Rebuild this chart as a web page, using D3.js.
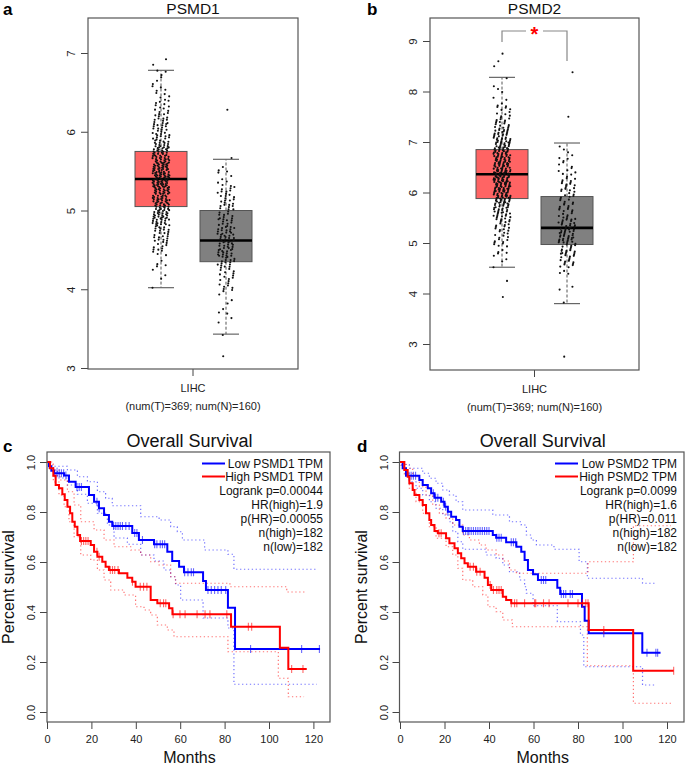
<!DOCTYPE html>
<html>
<head>
<meta charset="utf-8">
<script src="https://cdn.jsdelivr.net/npm/d3@7"></script>
<style>
  body { margin: 0; background: #fff; }
  svg { display: block; font-family: "Liberation Sans", Arial, Helvetica, sans-serif; }
</style>
</head>
<body>
<svg id="fig"></svg>
<script>
const width = 685;
const height = 766;
const BIN = 0.1; // histogram bin width used for the jittered expression points

// ---- boxplot data (Tumor, Normal) ----
const boxGroups = ["Tumor", "Normal"];
const boxColors = ["#FF6464", "#808080"];
// [lower whisker, Q1, median, Q3, upper whisker]
const psmd1Stats = [[4.02, 5.05, 5.40, 5.75, 6.78], [3.43, 4.35, 4.62, 5.00, 5.65]];
const psmd2Stats = [[4.52, 5.88, 6.36, 6.85, 8.28], [3.80, 4.97, 5.30, 5.92, 6.98]];

// point counts per 0.1 bin
const psmd1TumorStart = 4.0;
const psmd1TumorCounts = [1, 2, 2, 3, 4, 8, 11, 13, 18, 20, 20, 24, 26, 30, 30, 28, 24, 20, 17, 14, 12, 10, 8, 7, 5, 4, 3, 3];
const psmd1NormalStart = 3.4;
const psmd1NormalCounts = [1, 1, 2, 2, 2, 3, 6, 7, 8, 12, 15, 14, 14, 14, 10, 9, 10, 9, 8, 5, 3, 2, 1];
const psmd2TumorStart = 4.5;
const psmd2TumorCounts = [1, 2, 2, 3, 4, 5, 5, 6, 7, 9, 10, 12, 13, 16, 18, 20, 20, 20, 20, 20, 19, 18, 16, 16, 15, 14, 12, 10, 8, 6, 5, 4, 3, 2, 1, 1, 1, 1];
const psmd2NormalStart = 3.8;
const psmd2NormalCounts = [1, 0, 1, 1, 0, 1, 2, 5, 6, 8, 9, 7, 12, 11, 11, 10, 8, 6, 6, 6, 5, 6, 7, 6, 5, 4, 3, 3, 3, 2, 1, 1];
const psmd1Outliers = [[6.85, 6.92], [6.28, 3.15]];
const psmd2Outliers = [[8.75, 8.6, 8.5, 4.25, 3.93], [8.38, 7.5, 2.75]];

// ---- survival data: [months, survival] steps ----
const kmTicks = [0, 20, 40, 60, 80, 100, 120];
const survTicks = [0, 0.2, 0.4, 0.6, 0.8, 1.0];

const psmd1Low = [[0,1],[0.9,0.983],[1.95,0.965],[3.15,0.955],[7.7,0.946],[9.9,0.921],[12.9,0.9],[18.9,0.868],[21.2,0.841],[23.4,0.815],[25.7,0.788],[27.9,0.761],[29.4,0.744],[38.4,0.716],[41.4,0.688],[48.2,0.671],[54.2,0.641],[56.4,0.604],[59.5,0.581],[61.7,0.559],[70.3,0.524],[71.6,0.488],[81.5,0.417],[84.7,0.252],[123,0.252]];
const psmd1High = [[0,1],[1.35,0.975],[2.85,0.945],[3.9,0.908],[5.4,0.895],[6.9,0.871],[8,0.848],[9.2,0.821],[10.4,0.795],[11.4,0.761],[12.5,0.741],[13.7,0.708],[14.9,0.684],[19.7,0.668],[21.2,0.641],[22.7,0.621],[24.9,0.601],[26.4,0.581],[27.9,0.568],[32.4,0.555],[36.2,0.537],[38.4,0.521],[39.9,0.501],[46.7,0.448],[49.7,0.435],[55,0.415],[56.5,0.391],[82.9,0.341],[104.9,0.257],[108.7,0.172],[117,0.172]];
const psmd1LowUpper = [[0,1],[1.6,0.983],[9.2,0.968],[13.7,0.941],[18.2,0.921],[22.7,0.881],[26.4,0.855],[29.4,0.825],[42.2,0.781],[50.5,0.768],[55.7,0.741],[58.7,0.721],[61,0.688],[71,0.648],[81.5,0.631],[84.2,0.571],[121.5,0.571]];
const psmd1LowLower = [[0,1],[0.9,0.975],[4.7,0.936],[9.2,0.908],[13.7,0.871],[18.2,0.835],[22.7,0.795],[27.2,0.748],[30.2,0.696],[36.2,0.671],[42.2,0.628],[48.2,0.604],[52.7,0.568],[55.7,0.541],[57.9,0.508],[60.2,0.448],[70.3,0.376],[81.5,0.336],[84.2,0.111],[121.5,0.111]];
const psmd1HighUpper = [[0,1],[2.85,0.968],[5.9,0.928],[9.2,0.881],[12.2,0.828],[15.2,0.761],[21.2,0.728],[25.7,0.688],[30.2,0.661],[37.7,0.648],[42.2,0.628],[46.7,0.601],[50.5,0.588],[55.7,0.541],[57.9,0.515],[82.4,0.501],[108,0.48],[117,0.48]];
const psmd1HighLower = [[0,1],[0.9,0.988],[2.85,0.92],[5.4,0.868],[7.7,0.821],[9.9,0.761],[12.2,0.701],[15.2,0.628],[19.7,0.608],[22.7,0.568],[25.7,0.528],[28.7,0.488],[34.7,0.468],[39.9,0.421],[43.7,0.408],[46.7,0.388],[49.7,0.348],[54.2,0.328],[57.2,0.301],[81.5,0.241],[104.2,0.135],[108.7,0.061],[115.8,0.061]];
const psmd1LowCensor = [3.5,4.5,5.5,6.5,7.5,8.5,13.5,14.5,15.5,22.5,23.5,30,31,32,33,34,35.5,37,39.5,40.5,43,48.5,49.5,51,52,53,62,63.5,65,66,72.5,74,75.5,77,78.5,80.5,91.7,114.7,122.7];
const psmd1HighCensor = [15.5,16.5,17.5,18.5,22.5,23.5,28.5,29.5,30.5,32,38.5,42,43.5,45,51,52.5,53.5,56.8,59.9,62.2,67.6,71.2,73.4,81,90.7,92.2,110.2,115.3];

const psmd2Low = [[0,1],[1.2,0.975],[2.7,0.945],[8.7,0.928],[10.2,0.908],[12.5,0.895],[14,0.875],[15.5,0.857],[18.5,0.841],[20,0.821],[21.5,0.801],[23,0.781],[25.2,0.768],[26.7,0.741],[28.2,0.724],[41.7,0.708],[43.2,0.697],[47.7,0.679],[52.3,0.661],[54.5,0.641],[56,0.608],[57.5,0.568],[59.8,0.551],[62,0.528],[70.7,0.497],[72,0.472],[81.8,0.421],[83,0.365],[84.8,0.315],[108.9,0.237],[117.1,0.237]];
const psmd2High = [[0,1],[1.95,0.968],[3.45,0.941],[4.2,0.915],[5.7,0.888],[6.5,0.868],[8.7,0.848],[10.2,0.828],[11.7,0.795],[13.2,0.768],[14,0.748],[15.5,0.724],[17,0.715],[20.7,0.695],[22.2,0.675],[24.5,0.655],[26,0.635],[27.5,0.615],[29,0.595],[30.5,0.581],[34.2,0.561],[38,0.537],[39.5,0.508],[41,0.488],[46.2,0.461],[47.7,0.448],[50,0.435],[84.8,0.328],[104.8,0.165],[123,0.165]];
const psmd2LowUpper = [[0,1],[1.2,0.99],[4.2,0.975],[10.2,0.955],[13.2,0.935],[16.2,0.915],[19.2,0.888],[22.2,0.868],[25.2,0.841],[28.2,0.808],[41.7,0.788],[49.2,0.761],[54.5,0.748],[56.8,0.708],[59,0.688],[61.3,0.668],[69.2,0.651],[80.5,0.601],[84.2,0.535],[109,0.515],[115,0.515]];
const psmd2LowLower = [[0,1],[0.45,0.988],[1.95,0.955],[4.2,0.921],[7.2,0.895],[10.2,0.868],[13.2,0.841],[16.2,0.815],[19.2,0.788],[22.2,0.761],[23.7,0.721],[26,0.681],[28.2,0.651],[38.7,0.628],[43.2,0.615],[46.2,0.588],[49.2,0.561],[53.8,0.528],[56,0.501],[56.8,0.475],[59.8,0.425],[70.7,0.361],[81.1,0.308],[82.6,0.181],[109,0.108],[114.5,0.108]];
const psmd2HighUpper = [[0,1],[2.7,0.975],[5.7,0.941],[8.7,0.901],[11.7,0.868],[14.7,0.828],[17.7,0.795],[20.7,0.775],[23.7,0.748],[28.2,0.708],[31.2,0.688],[35.7,0.668],[38.7,0.648],[43.2,0.628],[46.2,0.604],[49.2,0.568],[52.3,0.555],[84.5,0.601],[104.9,0.745],[121.8,0.745]];
const psmd2HighLower = [[0,1],[0.45,0.988],[1.95,0.948],[4.2,0.895],[7.2,0.841],[10.2,0.795],[13.2,0.741],[16.2,0.695],[20.7,0.661],[23.7,0.628],[26,0.575],[28.2,0.528],[32.7,0.501],[37.2,0.468],[39.5,0.421],[43.2,0.401],[46.2,0.368],[50.5,0.341],[84.2,0.185],[104.9,0.035],[121.8,0.035]];
const psmd2LowCensor = [4,5,6,7,15,16,17,19.5,20.5,21.5,28.5,29.5,30.5,31,32,33,34,35,36,37,38,39,40,43.5,44.5,45.5,50,51,52,63.5,64.5,65.5,72.5,73.5,74.5,76.5,77.5,91.6,111,115,115.8];
const psmd2HighCensor = [17.5,18.5,31.5,33,34.5,36,40.5,42,43.5,44.5,45.5,50,51.5,52.5,56,60.5,61,64.5,67,75.5,80,82,83.5,84.5,91.6,123];

const svg = d3.select("#fig").attr("width", width).attr("height", height);
svg.append("rect").attr("width", width).attr("height", height).attr("fill", "#fff");

function panelLetter(txt, x, y) {
  svg.append("text").attr("x", x).attr("y", y)
    .attr("font-size", 17).attr("font-weight", "bold").attr("fill", "#000").text(txt);
}

function styleLeftAxis(g, gap, size) {
  g.select(".domain").remove();
  g.selectAll(".tick line").attr("stroke", "#444");
  g.selectAll(".tick text")
    .attr("x", null).attr("dy", null)
    .attr("text-anchor", "middle")
    .attr("transform", `translate(${-gap},0) rotate(-90)`)
    .attr("font-size", size).attr("fill", "#222");
}

// ---------------- boxplot panels ----------------
function boxPanel(o) {
  const g = svg.append("g");
  const y = d3.scaleLinear().domain([3, o.topTick]).range(o.yRange);
  const x = d3.scalePoint().domain(boxGroups).range(o.centers);
  const xCat = d3.scaleBand().domain(["LIHC"]).range([o.left, o.right]);

  // y axis
  g.append("g").attr("transform", `translate(${o.left},0)`)
    .call(d3.axisLeft(y).tickValues(d3.range(3, o.topTick + 1)).tickSize(7).tickFormat(d3.format("d")))
    .call(a => styleLeftAxis(a, 13, 11.5));

  // x axis (single category)
  const xa = g.append("g").attr("transform", `translate(0,${o.bottom})`)
    .call(d3.axisBottom(xCat).tickSize(7).tickPadding(8));
  xa.select(".domain").remove();
  xa.selectAll(".tick line").attr("stroke", "#444");
  xa.selectAll(".tick text").attr("font-size", 11).attr("fill", "#222");
  xa.append("text").attr("x", xCat("LIHC") + xCat.bandwidth() / 2).attr("y", 41)
    .attr("text-anchor", "middle").attr("font-size", 11).attr("fill", "#222")
    .text("(num(T)=369; num(N)=160)");

  // boxes, whiskers
  boxGroups.forEach((grp, i) => {
    const [lo, q1, med, q3, hi] = o.stats[i];
    const cx = x(grp);
    g.append("line").attr("x1", cx).attr("x2", cx).attr("y1", y(q3)).attr("y2", y(hi))
      .attr("stroke", "#555").attr("stroke-dasharray", "3,2");
    g.append("line").attr("x1", cx).attr("x2", cx).attr("y1", y(q1)).attr("y2", y(lo))
      .attr("stroke", "#555").attr("stroke-dasharray", "3,2");
    [lo, hi].forEach(v => g.append("line")
      .attr("x1", cx - 13).attr("x2", cx + 13).attr("y1", y(v)).attr("y2", y(v))
      .attr("stroke", "#666").attr("stroke-width", 1.2));
    g.append("rect").attr("x", cx - 26).attr("width", 52)
      .attr("y", y(q3)).attr("height", y(q1) - y(q3))
      .attr("fill", boxColors[i]).attr("stroke", "#555").attr("stroke-width", 1);
    g.append("line").attr("x1", cx - 26).attr("x2", cx + 26).attr("y1", y(med)).attr("y2", y(med))
      .attr("stroke", "#000").attr("stroke-width", 2.6);
  });

  // jittered points: value spread inside its bin and x jitter follow a low-discrepancy sequence
  boxGroups.forEach((grp, i) => {
    const start = o.starts[i], counts = o.counts[i];
    const vals = [];
    let j = 0;
    counts.forEach((n, k) => {
      for (let m = 0; m < n; m++, j++) {
        vals.push(start + k * BIN + ((j * 0.5698403 + 0.2) % 1) * BIN);
      }
    });
    o.outliers[i].forEach(v => vals.push(v));
    const cx = x(grp);
    g.append("g").selectAll("circle").data(vals).join("circle")
      .attr("cx", (d, n) => cx + (((n * 0.7548777 + i * 0.31) % 1) - 0.5) * 17)
      .attr("cy", d => y(d))
      .attr("r", 1.05).attr("fill", "#111");
  });

  // frame
  g.append("rect").attr("x", o.left).attr("y", o.top)
    .attr("width", o.right - o.left).attr("height", o.bottom - o.top)
    .attr("fill", "none").attr("stroke", "#555").attr("stroke-width", 1.2);

  g.append("text").attr("x", (o.left + o.right) / 2).attr("y", 14)
    .attr("text-anchor", "middle").attr("font-size", 15.5).attr("fill", "#111").text(o.title);

  if (o.bracket) {
    const bx1 = x(boxGroups[0]), bx2 = x(boxGroups[1]), by = o.bracket;
    g.append("path")
      .attr("d", `M${bx1},${by + 11}V${by}H${bx1 + 24}M${bx2 - 24},${by}H${bx2}V${by + 30}`)
      .attr("fill", "none").attr("stroke", "#888").attr("stroke-width", 1.2);
    g.append("text").attr("x", (bx1 + bx2) / 2).attr("y", by + 10)
      .attr("text-anchor", "middle").attr("font-size", 20).attr("font-weight", "bold")
      .attr("fill", "#FF0000").text("*");
  }
}

boxPanel({
  title: "PSMD1", left: 88, right: 298, top: 18, bottom: 369,
  yRange: [368, 53], topTick: 7, centers: [161, 226],
  stats: psmd1Stats, starts: [psmd1TumorStart, psmd1NormalStart],
  counts: [psmd1TumorCounts, psmd1NormalCounts], outliers: psmd1Outliers
});
boxPanel({
  title: "PSMD2", left: 430, right: 639, top: 18, bottom: 370,
  yRange: [344, 41], topTick: 9, centers: [502, 567],
  stats: psmd2Stats, starts: [psmd2TumorStart, psmd2NormalStart],
  counts: [psmd2TumorCounts, psmd2NormalCounts], outliers: psmd2Outliers,
  bracket: 31
});

// ---------------- survival panels ----------------
function stepAt(curve, t) {
  const i = d3.bisector(d => d[0]).right(curve, t) - 1;
  return curve[Math.max(0, i)][1];
}

function kmPanel(o) {
  const g = svg.append("g");
  const x = d3.scaleLinear().domain([0, 120]).range(o.xRange);
  const y = d3.scaleLinear().domain([0, 1]).range([712, 462]);
  const line = d3.line().x(d => x(d[0])).y(d => y(d[1])).curve(d3.curveStepAfter);

  g.append("g").attr("transform", `translate(${o.left},0)`)
    .call(d3.axisLeft(y).tickValues(survTicks).tickSize(7).tickFormat(d3.format(".1f")))
    .call(a => styleLeftAxis(a, 12, 11));

  const xa = g.append("g").attr("transform", `translate(0,722)`)
    .call(d3.axisBottom(x).tickValues(kmTicks).tickSize(7).tickPadding(6));
  xa.select(".domain").remove();
  xa.selectAll(".tick line").attr("stroke", "#444");
  xa.selectAll(".tick text").attr("font-size", 11).attr("fill", "#222");

  const series = [
    { data: o.lowUpper, color: "#0000FF", dotted: true },
    { data: o.lowLower, color: "#0000FF", dotted: true },
    { data: o.highUpper, color: "#FF0000", dotted: true },
    { data: o.highLower, color: "#FF0000", dotted: true },
    { data: o.low, color: "#0000FF", censor: o.lowCensor },
    { data: o.high, color: "#FF0000", censor: o.highCensor }
  ];
  series.forEach(s => {
    g.append("path").datum(s.data).attr("d", line).attr("fill", "none")
      .attr("stroke", s.color)
      .attr("stroke-width", s.dotted ? 1.2 : 2)
      .attr("stroke-dasharray", s.dotted ? "1.3,2.6" : null)
      .attr("stroke-opacity", s.dotted ? 0.55 : 1);
    if (s.censor) {
      g.append("g").selectAll("line").data(s.censor).join("line")
        .attr("x1", d => x(d)).attr("x2", d => x(d))
        .attr("y1", d => y(stepAt(s.data, d)) - 4).attr("y2", d => y(stepAt(s.data, d)) + 4)
        .attr("stroke", s.color).attr("stroke-opacity", 0.6).attr("stroke-width", 1.1);
    }
  });

  g.append("rect").attr("x", o.left).attr("y", 452)
    .attr("width", o.right - o.left).attr("height", 270)
    .attr("fill", "none").attr("stroke", "#555").attr("stroke-width", 1.2);

  g.append("text").attr("x", (o.left + o.right) / 2 + 1).attr("y", 447)
    .attr("text-anchor", "middle").attr("font-size", 18).attr("fill", "#111").text("Overall Survival");
  g.append("text").attr("x", (o.left + o.right) / 2 + 1).attr("y", 763)
    .attr("text-anchor", "middle").attr("font-size", 16).attr("fill", "#111").text("Months");
  g.append("text").attr("transform", `translate(${o.left - 33},587) rotate(-90)`)
    .attr("text-anchor", "middle").attr("font-size", 16).attr("fill", "#111").text("Percent survival");

  // legend
  const lg = g.append("g").attr("font-size", 12).attr("fill", "#111");
  [["#0000FF", `Low ${o.gene} TPM`, 463.5], ["#FF0000", `High ${o.gene} TPM`, 476.5]].forEach(([c, t, ly]) => {
    lg.append("line").attr("x1", o.legendX).attr("x2", o.legendX + 23).attr("y1", ly).attr("y2", ly)
      .attr("stroke", c).attr("stroke-width", 2);
    lg.append("text").attr("x", o.right - 7).attr("y", ly + 4.5).attr("text-anchor", "end").text(t);
  });
  o.stats.forEach((t, i) => {
    lg.append("text").attr("x", o.right - 7).attr("y", 495 + i * 14).attr("text-anchor", "end").text(t);
  });
}

kmPanel({
  gene: "PSMD1", left: 47, right: 330, xRange: [47, 313.4], legendX: 202,
  low: psmd1Low, high: psmd1High,
  lowUpper: psmd1LowUpper, lowLower: psmd1LowLower,
  highUpper: psmd1HighUpper, highLower: psmd1HighLower,
  lowCensor: psmd1LowCensor, highCensor: psmd1HighCensor,
  stats: ["Logrank p=0.00044", "HR(high)=1.9", "p(HR)=0.00055", "n(high)=182", "n(low)=182"]
});
kmPanel({
  gene: "PSMD2", left: 399.5, right: 684, xRange: [400, 667], legendX: 555,
  low: psmd2Low, high: psmd2High,
  lowUpper: psmd2LowUpper, lowLower: psmd2LowLower,
  highUpper: psmd2HighUpper, highLower: psmd2HighLower,
  lowCensor: psmd2LowCensor, highCensor: psmd2HighCensor,
  stats: ["Logrank p=0.0099", "HR(high)=1.6", "p(HR)=0.011", "n(high)=182", "n(low)=182"]
});

panelLetter("a", 3, 15);
panelLetter("b", 367, 15);
panelLetter("c", 3, 452);
panelLetter("d", 357, 452);
</script>
</body>
</html>
